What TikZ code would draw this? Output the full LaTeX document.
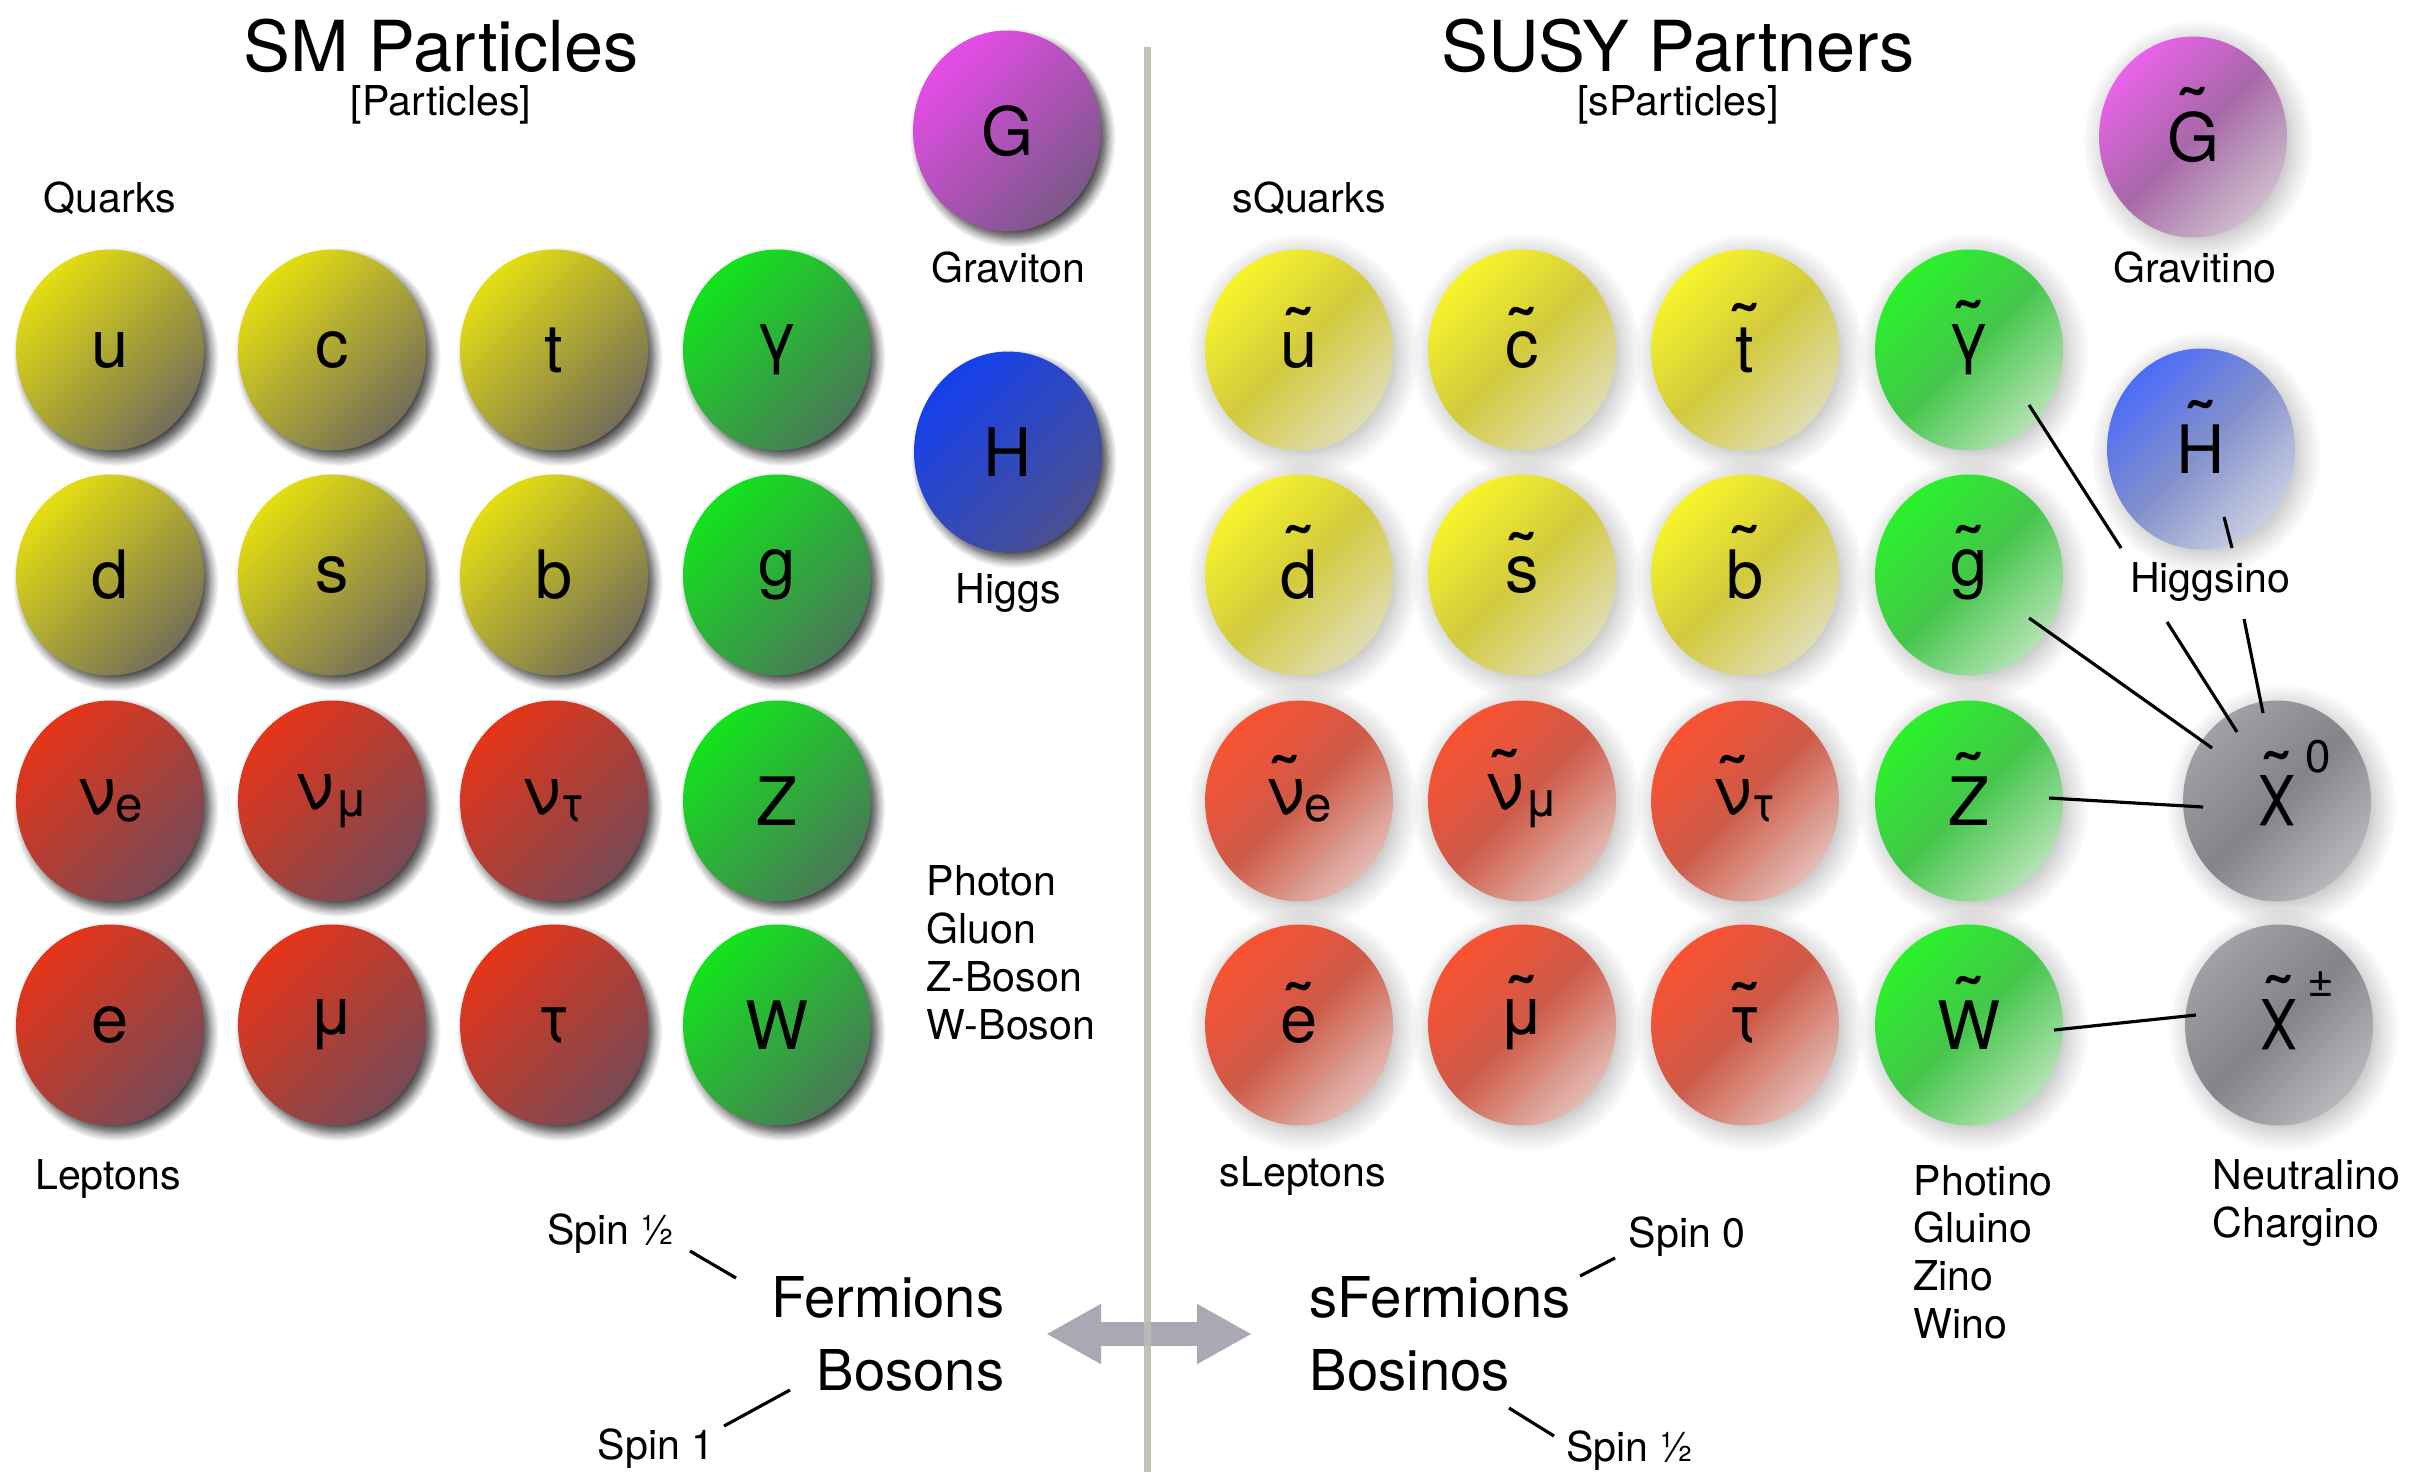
\documentclass[tikz,border=0pt]{standalone}
\usepackage{fontspec}
\setmainfont{TeX Gyre Heros}
\usetikzlibrary{shapes.geometric,shadows.blur,arrows.meta,calc}
\definecolor{smyelA}{HTML}{E4DE12}\definecolor{smyelB}{HTML}{746E58}
\definecolor{smgrnA}{HTML}{12E41C}\definecolor{smgrnB}{HTML}{4A7858}
\definecolor{smredA}{HTML}{E63418}\definecolor{smredB}{HTML}{784A55}
\definecolor{smpurA}{HTML}{E64CE8}\definecolor{smpurB}{HTML}{7A5888}
\definecolor{smbluA}{HTML}{1440EE}\definecolor{smbluB}{HTML}{4A5090}
\definecolor{syelA}{HTML}{F8F42A}\definecolor{syelM}{HTML}{D2CA3E}\definecolor{syelB}{HTML}{E0DCB2}
\definecolor{sgrnA}{HTML}{2AF22A}\definecolor{sgrnM}{HTML}{44C64A}\definecolor{sgrnB}{HTML}{B4E2B4}
\definecolor{sredA}{HTML}{FA5232}\definecolor{sredM}{HTML}{CE5A48}\definecolor{sredB}{HTML}{E2BCB4}
\definecolor{spurA}{HTML}{EA62EA}\definecolor{spurM}{HTML}{A868A8}\definecolor{spurB}{HTML}{CDBDCC}
\definecolor{sbluA}{HTML}{4C6CF8}\definecolor{sbluM}{HTML}{8290CC}\definecolor{sbluB}{HTML}{CACEE2}
\definecolor{sgryA}{HTML}{A0A0A6}\definecolor{sgryM}{HTML}{838389}\definecolor{sgryB}{HTML}{B8B8BC}
\definecolor{arrgray}{HTML}{A9A9B5}
\definecolor{sepgray}{HTML}{BDBAB2}
\newcommand\sq[1]{\setbox0\hbox{#1}\setbox2\hbox{\fontsize{23}{23}\selectfont\char"02DC}%
  \rlap{\hbox to\wd0{\hss\smash{\raisebox{\dimexpr\ht0+7pt-\ht2\relax}{\copy2}}\hss}}\box0}
\newcommand\psub[1]{\raisebox{-0.2ex}{\fontsize{14}{14}\selectfont #1}}
\newcommand\psup[1]{\rlap{\smash{\raisebox{1.1ex}{\hspace{0.1em}\fontsize{13}{13}\selectfont #1}}}}
\begin{document}
\begin{tikzpicture}[
  ball/.style={ellipse,minimum width=1.88cm,minimum height=2.01cm,inner sep=0pt,font=\fontsize{19}{19}\selectfont},
  smball/.style 2 args={ball,top color=#1,bottom color=#2,shading angle=45,
    blur shadow={shadow xshift=0.06cm,shadow yshift=-0.07cm,shadow blur radius=0.09cm,shadow blur steps=8,shadow opacity=75}},
  susyball/.style n args={3}{ball,top color=#1,bottom color=#3,middle color=#2,shading angle=45,
    blur shadow={shadow xshift=0.05cm,shadow yshift=-0.05cm,shadow blur radius=0.22cm,shadow blur steps=14,shadow opacity=30}},
  ttl/.style={inner sep=0pt,font=\fontsize{20}{24}\selectfont},
  lbl/.style={inner sep=0pt,font=\fontsize{11.7}{13.6}\selectfont,align=left},
  big/.style={inner sep=0pt,font=\fontsize{16}{19}\selectfont},
  link/.style={line width=0.9pt,black}]
\useasboundingbox (0,0) rectangle (24.29,-14.72);
\node[ttl] (ttlL) at (4.41,-0.46) {SM Particles};
\node[lbl] (subL) at (4.41,-1.05) {[Particles]};
\node[ttl] (ttlR) at (16.78,-0.46) {SUSY Partners};
\node[lbl] (subR) at (16.78,-1.05) {[sParticles]};
\node[lbl] (quarks) at (1.10,-1.98) {Quarks};
\node[lbl] (squarks) at (13.09,-1.98) {sQuarks};
\node[smball={smyelA}{smyelB}] (u) at (1.10,-3.50) {u};
\node[smball={smyelA}{smyelB}] (c) at (3.32,-3.50) {c};
\node[smball={smyelA}{smyelB}] (t) at (5.54,-3.50) {t};
\node[smball={smgrnA}{smgrnB}] (gm) at (7.77,-3.50) {γ};
\node[smball={smyelA}{smyelB}] (d) at (1.10,-5.75) {d};
\node[smball={smyelA}{smyelB}] (s) at (3.32,-5.75) {s};
\node[smball={smyelA}{smyelB}] (b) at (5.54,-5.75) {b};
\node[smball={smgrnA}{smgrnB}] (g) at (7.77,-5.75) {g};
\node[smball={smredA}{smredB}] (ne) at (1.10,-8.01) {ν\psub{e}};
\node[smball={smredA}{smredB}] (nm) at (3.32,-8.01) {ν\psub{μ}};
\node[smball={smredA}{smredB}] (nt) at (5.54,-8.01) {ν\psub{τ}};
\node[smball={smgrnA}{smgrnB}] (z) at (7.77,-8.01) {Z};
\node[smball={smredA}{smredB}] (e) at (1.10,-10.25) {e};
\node[smball={smredA}{smredB}] (mu) at (3.32,-10.25) {μ};
\node[smball={smredA}{smredB}] (ta) at (5.54,-10.25) {τ};
\node[smball={smgrnA}{smgrnB}] (w) at (7.77,-10.25) {W};
\node[smball={smpurA}{smpurB}] (grv) at (10.07,-1.31) {G};
\node[smball={smbluA}{smbluB}] (h) at (10.08,-4.52) {H};
\node[lbl] (grav) at (10.08,-2.68) {Graviton};
\node[lbl] (higgs) at (10.08,-5.93) {Higgs};
\node[lbl,anchor=west] (bos) at (9.26,-9.53) {Photon\\Gluon\\Z-Boson\\W-Boson};
\node[lbl] (leptons) at (1.08,-11.79) {Leptons};
\node[susyball={syelA}{syelM}{syelB}] (su) at (12.99,-3.50) {\sq{u}};
\node[susyball={syelA}{syelM}{syelB}] (sc) at (15.22,-3.50) {\sq{c}};
\node[susyball={syelA}{syelM}{syelB}] (st) at (17.45,-3.50) {\sq{t}};
\node[susyball={sgrnA}{sgrnM}{sgrnB}] (sgm) at (19.69,-3.50) {\sq{γ}};
\node[susyball={syelA}{syelM}{syelB}] (sd) at (12.99,-5.75) {\sq{d}};
\node[susyball={syelA}{syelM}{syelB}] (ss) at (15.22,-5.75) {\sq{s}};
\node[susyball={syelA}{syelM}{syelB}] (sb) at (17.45,-5.75) {\sq{b}};
\node[susyball={sgrnA}{sgrnM}{sgrnB}] (sg) at (19.69,-5.75) {\sq{g}};
\node[susyball={sredA}{sredM}{sredB}] (sne) at (12.99,-8.01) {\sq{ν}\psub{e}};
\node[susyball={sredA}{sredM}{sredB}] (snm) at (15.22,-8.01) {\sq{ν}\psub{μ}};
\node[susyball={sredA}{sredM}{sredB}] (snt) at (17.45,-8.01) {\sq{ν}\psub{τ}};
\node[susyball={sgrnA}{sgrnM}{sgrnB}] (sz) at (19.69,-8.01) {\sq{Z}};
\node[susyball={sredA}{sredM}{sredB}] (se) at (12.99,-10.25) {\sq{e}};
\node[susyball={sredA}{sredM}{sredB}] (smu) at (15.22,-10.25) {\sq{μ}};
\node[susyball={sredA}{sredM}{sredB}] (sta) at (17.45,-10.25) {\sq{τ}};
\node[susyball={sgrnA}{sgrnM}{sgrnB}] (sw) at (19.69,-10.25) {\sq{W}};
\node[susyball={spurA}{spurM}{spurB}] (sgrv) at (21.93,-1.37) {\sq{G}};
\node[susyball={sbluA}{sbluM}{sbluB}] (sh) at (22.01,-4.49) {\sq{H}};
\node[susyball={sgryA}{sgryM}{sgryB}] (chn) at (22.77,-8.01) {\sq{χ}\psup{0}};
\node[susyball={sgryA}{sgryM}{sgryB}] (chc) at (22.79,-10.25) {\sq{χ}\psup{±}};
\node[lbl] (gravino) at (21.95,-2.68) {Gravitino};
\node[lbl] (hsino) at (22.10,-5.82) {Higgsino};
\node[lbl] (sleptons) at (13.03,-11.76) {sLeptons};
\node[lbl,anchor=west] (gauginos) at (19.13,-12.52) {Photino\\Gluino\\Zino\\Wino};
\node[lbl,anchor=west] (inos) at (22.12,-12.03) {Neutralino\\Chargino};
\draw[link] ($(sgm)+(0.60,-0.55)$) -- ($(hsino)+(-0.89,0.34)$);
\draw[link] ($(sh)+(0.23,-0.68)$) -- ($(hsino)+(0.22,0.34)$);
\draw[link] ($(hsino)+(-0.43,-0.40)$) -- ($(chn)+(-0.40,0.69)$);
\draw[link] ($(hsino)+(0.34,-0.37)$) -- ($(chn)+(-0.14,0.88)$);
\draw[link] ($(sg)+(0.60,-0.43)$) -- ($(chn)+(-0.65,0.53)$);
\draw[link] ($(sz)+(0.80,0.03)$) -- ($(chn)+(-0.74,-0.06)$);
\draw[link] ($(sw)+(0.85,-0.05)$) -- ($(chc)+(-0.83,0.10)$);
\node[lbl] (spinA) at (6.11,-12.34) {Spin ½};
\node[big,anchor=east] (ferm) at (10.05,-12.97) {Fermions};
\node[big,anchor=east] (bosons) at (10.05,-13.70) {Bosons};
\node[lbl] (spinB) at (6.56,-14.49) {Spin 1};
\node[big,anchor=west] (sferm) at (13.09,-12.97) {sFermions};
\node[big,anchor=west] (bosinos) at (13.09,-13.70) {Bosinos};
\node[lbl] (spinC) at (16.87,-12.37) {Spin 0};
\node[lbl] (spinD) at (16.30,-14.51) {Spin ½};
\draw[link] ($(spinA)+(0.79,-0.17)$) -- ($(ferm.east)+(-2.69,0.19)$);
\draw[link] ($(spinB)+(0.68,0.23)$) -- ($(bosons.east)+(-2.15,-0.20)$);
\draw[link] ($(sferm.west)+(2.71,0.21)$) -- ($(spinC)+(-0.72,-0.21)$);
\draw[link] ($(bosinos.west)+(2.00,-0.38)$) -- ($(spinD)+(-0.76,0.15)$);
\coordinate (arrL) at (10.46,-13.34);
\coordinate (arrR) at (12.52,-13.34);
\draw[arrgray,line width=0.24cm,{Triangle[length=0.55cm,width=0.56cm]}-{Triangle[length=0.55cm,width=0.56cm]}] (arrL) -- (arrR);
\coordinate (sepT) at (11.47,-0.47);
\coordinate (sepB) at (11.47,-14.72);
\draw[sepgray,line width=0.07cm,opacity=0.9] (sepT) -- (sepB);
\end{tikzpicture}
\end{document}
